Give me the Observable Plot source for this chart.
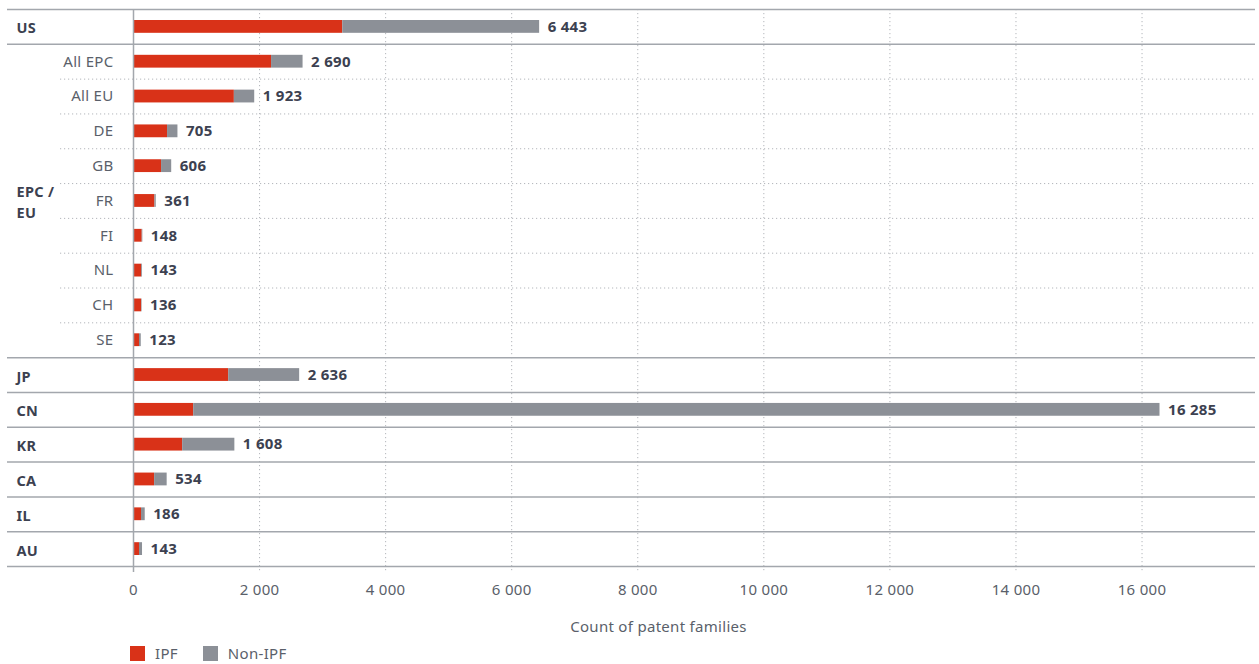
<!DOCTYPE html>
<html>
<head>
<meta charset="utf-8">
<script src="https://cdn.jsdelivr.net/npm/d3@7"></script>
<script src="https://cdn.jsdelivr.net/npm/@observablehq/plot@0.6"></script>
<style>
  html, body { margin: 0; background: #fff; font-family: "Noto Sans", sans-serif; overflow: hidden; }
  #legend { display: flex; align-items: center; margin-left: 130px; margin-top: 3px; font-size: 15px; letter-spacing: 0.3px; color: #5a5f6a; }
  #legend .sw { width: 15px; height: 15px; display: inline-block; margin-right: 10px; }
  #legend .item { display: flex; align-items: center; margin-right: 25px; }
</style>
</head>
<body>
<div id="chart"></div>
<script>
const rows = ["US","All EPC","All EU","DE","GB","FR","FI","NL","CH","SE","JP","CN","KR","CA","IL","AU"];
const totals = [6443,2690,1923,705,606,361,148,143,136,123,2636,16285,1608,534,186,143];
const ipf = [3320,2190,1600,540,445,340,138,130,128,95,1510,955,780,335,127,95];
const groupLabels = ["US","EPC /\nEU","JP","CN","KR","CA","IL","AU"];
const groupLabelRows = ["US","FR","JP","CN","KR","CA","IL","AU"];
const subRows = ["All EPC","All EU","DE","GB","FR","FI","NL","CH","SE"];
const solidAbove = ["US","All EPC","JP","CN","KR","CA","IL","AU"];
const dottedAbove = ["All EU","DE","GB","FR","FI","NL","CH","SE"];
const series = ["IPF","Non-IPF"];
const tickValues = [0,2000,4000,6000,8000,10000,12000,14000,16000];
const xLabel = "Count of patent families";

const fmt = v => d3.format(",")(v).replace(/,/g, "\u00a0");
const stacked = rows.flatMap((r, i) => [
  {row: r, type: "IPF", value: ipf[i]},
  {row: r, type: "Non-IPF", value: totals[i] - ipf[i]}
]);
const totalData = rows.map((r, i) => ({row: r, total: totals[i]}));
const groupData = groupLabels.map((g, i) => ({row: groupLabelRows[i], label: g}));

const W = 1259, H = 640, mT = 9, mB = 74;
const step = (H - mT - mB) / rows.length;
const half = step / 2;

const chart = Plot.plot({
  width: W,
  height: H,
  marginLeft: 133,
  marginRight: 4,
  marginTop: mT,
  marginBottom: mB,
  style: {fontFamily: "Noto Sans, sans-serif", fontSize: "14px", color: "#5a5f6a", background: "#fff", letterSpacing: "0.3px"},
  x: {domain: [0, 17800], axis: null},
  y: {domain: rows, padding: 0, round: false, axis: null},
  color: {domain: series, range: ["#d93218", "#8c9097"]},
  marks: [
    Plot.gridX(tickValues.slice(1), {stroke: "#b3b6bb", strokeOpacity: 1, strokeDasharray: "1.2,2.8", insetBottom: -6}),
    Plot.ruleY(dottedAbove, {y: d => d, dy: -half, stroke: "#b3b6bb", strokeDasharray: "1.2,2.8", insetLeft: -73}),
    Plot.ruleY(solidAbove, {y: d => d, dy: -half, stroke: "#a3a7ad", strokeWidth: 1.5, insetLeft: -126}),
    Plot.ruleY(["AU"], {y: d => d, dy: half, stroke: "#a3a7ad", strokeWidth: 1.5, insetLeft: -126}),
    Plot.barX(stacked, {y: "row", x: "value", fill: "type", insetTop: 11, insetBottom: 11}),
    Plot.ruleX([0], {stroke: "#a3a7ad", strokeWidth: 1.5, insetBottom: -6}),
    Plot.text(totalData, {y: "row", x: "total", text: d => fmt(d.total), textAnchor: "start", dx: 8, fill: "#3c4150", fontWeight: "bold", fontSize: 15}),
    Plot.text(groupData, {y: "row", text: "label", frameAnchor: "left", dx: -117, textAnchor: "start", fill: "#3c4150", fontWeight: "bold", fontSize: 14.5, lineHeight: 1.4}),
    Plot.text(subRows, {y: d => d, text: d => d, frameAnchor: "left", dx: -20, textAnchor: "end", fill: "#5a5f6a", fontSize: 15}),
    Plot.axisX(tickValues, {tickSize: 0, tickPadding: 18, tickFormat: fmt, fill: "#5a5f6a", fontSize: 15, label: null}),
    Plot.text([xLabel], {text: d => d, frameAnchor: "bottom", lineAnchor: "middle", dx: -36, dy: 61, fill: "#5a5f6a", fontSize: 15})
  ]
});
document.getElementById("chart").appendChild(chart);

const legend = document.createElement("div");
legend.id = "legend";
const colors = ["#d93218", "#8c9097"];
series.forEach((s, i) => {
  const item = document.createElement("span");
  item.className = "item";
  const sw = document.createElement("span");
  sw.className = "sw";
  sw.style.background = colors[i];
  item.appendChild(sw);
  item.appendChild(document.createTextNode(s));
  legend.appendChild(item);
});
document.body.appendChild(legend);
</script>
</body>
</html>
